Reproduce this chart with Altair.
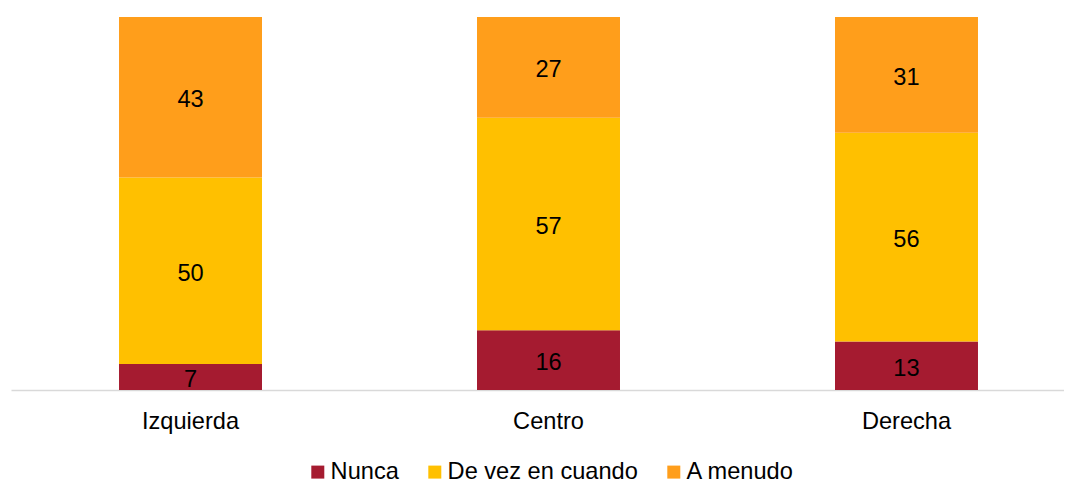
import altair as alt
import pandas as pd

categories = ["Izquierda", "Centro", "Derecha"]
series = ["Nunca", "De vez en cuando", "A menudo"]
nunca = [7, 16, 13]
de_vez = [50, 57, 56]
a_menudo = [43, 27, 31]
colors = ["#A51B30", "#FFC000", "#FF9E1B"]

rows = []
for i, cat in enumerate(categories):
    for j, (name, vals) in enumerate(zip(series, [nunca, de_vez, a_menudo])):
        rows.append({"cat": cat, "serie": name, "valor": vals[i], "orden": j})
df = pd.DataFrame(rows)

FONT = "Liberation Sans"
FS = 23.6

x = alt.X("cat:N", sort=categories, title=None,
          scale=alt.Scale(paddingInner=0.6006, paddingOuter=0.2710, align=0.5567),
          axis=alt.Axis(labelAngle=0, ticks=False, labelPadding=19, labelFontSize=FS,
                        labelFont=FONT, labelColor="#000000", domainColor="#D9D9D9",
                        domainWidth=1.5, grid=False))

base = alt.Chart(df).encode(
    x=x,
    y=alt.Y("valor:Q", stack="zero", scale=alt.Scale(domain=[0, 100], nice=False),
            axis=None),
    order=alt.Order("orden:Q"),
)

bars = base.mark_bar().encode(
    color=alt.Color("serie:N", sort=series,
                    scale=alt.Scale(domain=series, range=colors),
                    legend=alt.Legend(title=None, orient="none", direction="horizontal",
                                      legendX=295, legendY=443, padding=0,
                                      symbolType="square", symbolSize=169,
                                      symbolStrokeWidth=0, labelFontSize=FS,
                                      labelFont=FONT, labelColor="#000000",
                                      labelOffset=1, columnPadding=24, labelLimit=500)),
)

labels = base.mark_text(fontSize=FS, font=FONT, color="#000000", baseline="middle",
                        dy=3).encode(
    y=alt.Y("mid:Q", scale=alt.Scale(domain=[0, 100], nice=False), axis=None),
    text="valor:Q",
).transform_stack(
    stack="valor", groupby=["cat"], as_=["v0", "v1"], sort=[alt.SortField("orden")]
).transform_calculate(mid="(datum.v0 + datum.v1) / 2")

chart = alt.layer(bars, labels).properties(
    width=1053, height=373,
    padding={"left": 3, "top": 9, "right": 0, "bottom": 89},
    autosize=alt.AutoSizeParams(type="none"),
).configure_view(stroke=None)

chart.save("out.html", embed_options={"renderer": "svg", "actions": False})
